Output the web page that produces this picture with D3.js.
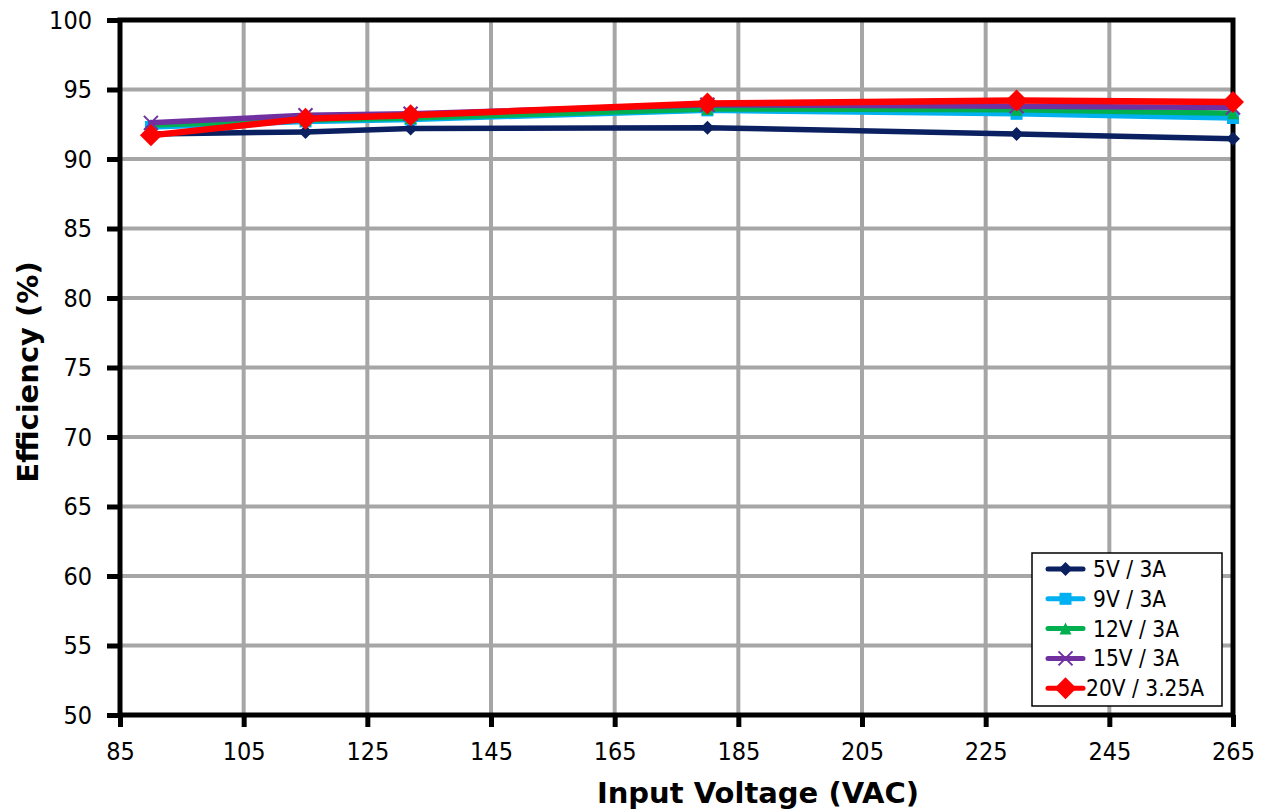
<!DOCTYPE html>
<html><head><meta charset="utf-8">
<script src="https://cdn.jsdelivr.net/npm/d3@7/dist/d3.min.js"></script>
<style>body{margin:0;background:#fff}svg{display:block}</style>
</head><body><svg id="c" width="1268" height="811"></svg>
<script>
const voltages = [90, 115, 132, 180, 230, 265];
const s5V  = [91.8, 91.95, 92.2, 92.25, 91.8, 91.45];
const s9V  = [92.3, 92.7, 92.85, 93.5, 93.25, 92.95];
const s12V = [92.45, 92.8, 92.95, 93.6, 93.55, 93.3];
const s15V = [92.6, 93.15, 93.25, 93.9, 93.8, 93.7];
const s20V = [91.7, 92.9, 93.15, 94.0, 94.2, 94.1];
const seriesNames = ["5V / 3A", "9V / 3A", "12V / 3A", "15V / 3A", "20V / 3.25A"];
const xTicks = [85, 105, 125, 145, 165, 185, 205, 225, 245, 265];
const yTicks = [50, 55, 60, 65, 70, 75, 80, 85, 90, 95, 100];

const series = [
  {name: seriesNames[0], vals: s5V,  color: "#0a2060", marker: "diamond", size: 14, lw: 5.5},
  {name: seriesNames[1], vals: s9V,  color: "#00b0f0", marker: "square",  size: 12, lw: 5.5},
  {name: seriesNames[2], vals: s12V, color: "#00b050", marker: "triangle",size: 12, lw: 5.5},
  {name: seriesNames[3], vals: s15V, color: "#7030a0", marker: "x",       size: 14, lw: 5.5},
  {name: seriesNames[4], vals: s20V, color: "#ff0000", marker: "bigdiamond", size: 22, lw: 6.5}
];

const svg = d3.select("#c");
const L = 120, R = 1233, T = 20, B = 715;
const x = d3.scaleLinear().domain([85, 265]).range([L, R]);
const y = d3.scaleLinear().domain([50, 100]).range([B, T]);
const font = "'DejaVu Sans Condensed','DejaVu Sans',sans-serif";

// grid
svg.append("g").selectAll("line").data(yTicks.filter(d => d > 50 && d < 100)).join("line")
  .attr("x1", L).attr("x2", R).attr("y1", d => y(d)).attr("y2", d => y(d))
  .attr("stroke", "#a6a6a6").attr("stroke-width", 4);
svg.append("g").selectAll("line").data(xTicks.filter(d => d > 85 && d < 265)).join("line")
  .attr("y1", T).attr("y2", B).attr("x1", d => x(d)).attr("x2", d => x(d))
  .attr("stroke", "#a6a6a6").attr("stroke-width", 4);

// frame
svg.append("rect").attr("x", L).attr("y", T).attr("width", R - L).attr("height", B - T)
  .attr("fill", "none").attr("stroke", "#000").attr("stroke-width", 5);

// axes
const yAxis = d3.axisLeft(y).tickValues(yTicks).tickSize(13).tickPadding(15).tickFormat(d3.format("d"));
const gy = svg.append("g").attr("transform", `translate(${L},0)`).call(yAxis);
const xAxis = d3.axisBottom(x).tickValues(xTicks).tickSize(12).tickPadding(15).tickFormat(d3.format("d"));
const gx = svg.append("g").attr("transform", `translate(0,${B})`).call(xAxis);
[gy, gx].forEach(g => {
  g.select(".domain").remove();
  g.selectAll(".tick line").attr("stroke", "#000").attr("stroke-width", 5);
  g.selectAll(".tick text").attr("font-family", font).attr("font-size", 25).attr("fill", "#000");
});

// titles
svg.append("text").attr("transform", "translate(38,372) rotate(-90)").attr("text-anchor", "middle")
  .attr("font-family", "'DejaVu Sans',sans-serif").attr("font-weight", "bold").attr("font-size", 29)
  .text("Efficiency (%)");
svg.append("text").attr("x", 758).attr("y", 803).attr("text-anchor", "middle")
  .attr("font-family", "'DejaVu Sans',sans-serif").attr("font-weight", "bold").attr("font-size", 29)
  .text("Input Voltage (VAC)");

function drawMarker(g, s, cx, cy) {
  const r = s.size / 2;
  if (s.marker === "diamond" || s.marker === "bigdiamond") {
    g.append("path").attr("d", `M${cx},${cy - r}L${cx + r},${cy}L${cx},${cy + r}L${cx - r},${cy}Z`).attr("fill", s.color);
  } else if (s.marker === "square") {
    g.append("rect").attr("x", cx - r).attr("y", cy - r).attr("width", s.size).attr("height", s.size).attr("fill", s.color);
  } else if (s.marker === "triangle") {
    g.append("path").attr("d", `M${cx},${cy - r}L${cx + r},${cy + r}L${cx - r},${cy + r}Z`).attr("fill", s.color);
  } else if (s.marker === "x") {
    g.append("path").attr("d", `M${cx - r},${cy - r}L${cx + r},${cy + r}M${cx + r},${cy - r}L${cx - r},${cy + r}`)
      .attr("stroke", s.color).attr("stroke-width", 2);
  }
}

const line = d3.line().x(d => x(d[0])).y(d => y(d[1]));
series.forEach(s => {
  const g = svg.append("g");
  const pts = voltages.map((v, i) => [v, s.vals[i]]);
  g.append("path").attr("d", line(pts)).attr("fill", "none").attr("stroke", s.color)
    .attr("stroke-width", s.lw).attr("stroke-linejoin", "round").attr("stroke-linecap", "round");
  pts.forEach(p => drawMarker(g, s, x(p[0]), y(p[1])));
});

// legend
const lg = svg.append("g");
lg.append("rect").attr("x", 1032).attr("y", 553).attr("width", 190).attr("height", 153)
  .attr("fill", "#fff").attr("stroke", "#000").attr("stroke-width", 1.5);
series.forEach((s, i) => {
  const cy = 569 + i * 29.8;
  lg.append("line").attr("x1", 1048).attr("x2", 1083).attr("y1", cy).attr("y2", cy)
    .attr("stroke", s.color).attr("stroke-width", 5).attr("stroke-linecap", "round");
  drawMarker(lg, s, 1065.5, cy);
  lg.append("text").attr("x", i === 4 ? 1086 : 1093).attr("y", cy + 8).attr("font-family", font)
    .attr("font-size", 22.5).attr("fill", "#000").text(s.name);
});
</script></body></html>
